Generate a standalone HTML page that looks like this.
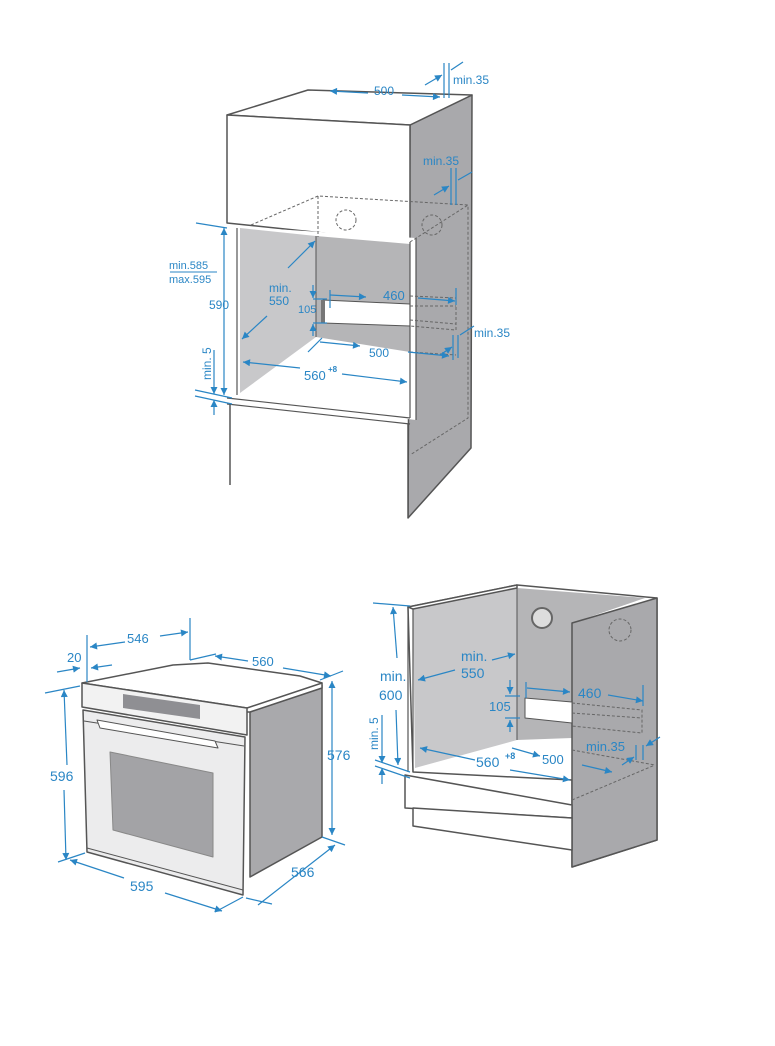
<!DOCTYPE html>
<html><head><meta charset="utf-8"><style>
html,body{margin:0;padding:0;background:#fff}
svg{display:block}
text{font-family:"Liberation Sans",sans-serif;fill:#2a86c5}
</style></head><body>
<svg width="775" height="1046" viewBox="0 0 775 1046" xmlns="http://www.w3.org/2000/svg">
<defs>
<marker id="a" viewBox="0 0 10 10" refX="10" refY="5" markerWidth="9" markerHeight="7" orient="auto-start-reverse" markerUnits="userSpaceOnUse"><path d="M0,0 L10,5 L0,10 z" fill="#2a86c5"/></marker>
</defs>
<g stroke="#555" stroke-width="1.5" stroke-linejoin="round">
<polygon points="410,125 472,95 471,448 408,518" fill="#a9a9ac"/>
<polygon points="227,115 308,90 472,95 410,125" fill="#fff"/>
<polygon points="227,115 410,125 410,242 227,223" fill="#fff"/>
<polygon points="227,226 416,238 416,420 227,398" fill="#fff" stroke="none"/>
<polygon points="240,228 316,236 316,337 240,393" fill="#c8c8ca" stroke="none"/>
<polygon points="316,236 410,244 410,352 316,337" fill="#b5b5b7" stroke="none"/>
<line x1="316" y1="236" x2="316" y2="337" stroke-width="1"/>
<polygon points="323,300 410,304 410,326 323,323" fill="#fff" stroke-width="1"/>
<rect x="321" y="300" width="4" height="23" fill="#777" stroke="none"/>
<line x1="237" y1="228" x2="237" y2="395" stroke-width="1.2"/>
<line x1="410" y1="242" x2="410" y2="418" stroke-width="1.2"/>
<line x1="416" y1="238" x2="416" y2="420" stroke-width="1.2"/>
<line x1="227" y1="398" x2="410" y2="418" stroke-width="1.2"/>
<polygon points="230,404 408,424 408,518 230,485" fill="#fff" stroke="none"/>
<line x1="227" y1="404" x2="410" y2="424" stroke-width="1.2"/>
<line x1="230" y1="404" x2="230" y2="485"/>
<line x1="408" y1="424" x2="408" y2="518"/>
</g>
<g stroke="#666" stroke-width="1" stroke-dasharray="3,2" fill="none">
<polyline points="251,225 318,196 468,205 468,418 410,455"/>
<line x1="318" y1="196" x2="318" y2="237"/>
<line x1="410" y1="242" x2="468" y2="205"/>
<polyline points="410,296 456,298 456,330 410,326"/>
<line x1="410" y1="306" x2="456" y2="306"/>
<line x1="410" y1="320" x2="456" y2="324"/>
<line x1="410" y1="352" x2="456" y2="355"/>
<circle cx="346" cy="220" r="10"/>
<circle cx="432" cy="225" r="10"/>
</g>
<g stroke="#2a86c5" stroke-width="1.2" fill="none">
<line x1="330" y1="91" x2="368" y2="93" marker-start="url(#a)"/>
<line x1="402" y1="95" x2="440" y2="97" marker-end="url(#a)"/>
<line x1="444" y1="63" x2="444" y2="98"/><line x1="449" y1="63" x2="449" y2="98"/>
<line x1="425" y1="85" x2="442" y2="75" marker-end="url(#a)"/><line x1="463" y1="62" x2="451" y2="70"/>
<line x1="451" y1="168" x2="451" y2="205"/><line x1="456" y1="168" x2="456" y2="205"/>
<line x1="434" y1="195" x2="449" y2="186" marker-end="url(#a)"/><line x1="472" y1="172" x2="458" y2="180"/>
<line x1="196" y1="223" x2="227" y2="228"/>
<line x1="224" y1="228" x2="224" y2="395" marker-start="url(#a)" marker-end="url(#a)"/>
<line x1="195" y1="390" x2="232" y2="398"/><line x1="195" y1="396" x2="232" y2="404"/>
<line x1="214" y1="350" x2="214" y2="394" marker-end="url(#a)"/>
<line x1="214" y1="415" x2="214" y2="400" marker-end="url(#a)"/>
<line x1="170" y1="272" x2="217" y2="272" stroke-width="1"/>
<line x1="288" y1="268" x2="315" y2="241" marker-end="url(#a)"/>
<line x1="267" y1="316" x2="242" y2="339" marker-end="url(#a)"/>
<line x1="330" y1="290" x2="330" y2="308"/>
<line x1="366" y1="297" x2="330" y2="295" marker-start="url(#a)"/>
<line x1="418" y1="298" x2="455" y2="301" marker-end="url(#a)"/>
<line x1="456" y1="288" x2="456" y2="305"/>
<line x1="313" y1="299" x2="327" y2="299"/><line x1="313" y1="323" x2="327" y2="323"/>
<line x1="313" y1="285" x2="313" y2="298" marker-end="url(#a)"/>
<line x1="313" y1="336" x2="313" y2="324" marker-end="url(#a)"/>
<line x1="308" y1="352" x2="322" y2="338"/>
<line x1="360" y1="346" x2="320" y2="342" marker-start="url(#a)"/>
<line x1="408" y1="352" x2="449" y2="356" marker-end="url(#a)"/>
<line x1="453" y1="335" x2="453" y2="360"/><line x1="458" y1="335" x2="458" y2="358"/>
<line x1="440" y1="355" x2="452" y2="347" marker-end="url(#a)"/><line x1="474" y1="326" x2="460" y2="335"/>
<line x1="300" y1="368" x2="243" y2="362" marker-end="url(#a)"/>
<line x1="342" y1="374" x2="407" y2="382" marker-end="url(#a)"/>
</g>
<text x="374" y="95" font-size="12">500</text>
<text x="453" y="84" font-size="12">min.35</text>
<text x="423" y="165" font-size="12">min.35</text>
<text x="169" y="269" font-size="11">min.585</text>
<text x="169" y="283" font-size="11">max.595</text>
<text x="209" y="309" font-size="12">590</text>
<text x="269" y="292" font-size="12">min.</text>
<text x="269" y="305" font-size="12">550</text>
<text x="383" y="300" font-size="13">460</text>
<text x="298" y="313" font-size="11">105</text>
<text x="369" y="357" font-size="12">500</text>
<text x="474" y="337" font-size="12">min.35</text>
<text x="304" y="380" font-size="13">560</text>
<text x="328" y="372" font-size="8" font-weight="bold">+8</text>
<text transform="translate(211,380) rotate(-90)" font-size="12">min. 5</text>

<g stroke="#555" stroke-width="1.5" stroke-linejoin="round">
<polygon points="250,712 322,685 322,837 250,877" fill="#a9a9ac"/>
<polygon points="242,700 322,683 322,688 250,712 242,712" fill="#fff"/>
<polygon points="82,683 173,665 208,663 300,676 322,683 247,708" fill="#fff"/>
<polygon points="82,683 247,708 247,735 82,707" fill="#f2f2f2"/>
<polygon points="123,694 200,705 200,719 123,708" fill="#8f8f93" stroke="none"/>
<polygon points="83,710 245,737 243,895 87,852" fill="#ececed"/>
<line x1="84" y1="721" x2="244" y2="746" stroke-width="1"/>
<polygon points="97,720 215,741 218,748 100,728" fill="#fff" stroke-width="1"/>
<polygon points="110,752 213,773 213,857 113,830" fill="#a3a3a6" stroke="#888" stroke-width="1"/>
<line x1="87" y1="848" x2="243" y2="890" stroke-width="1"/>
</g>
<g stroke="#2a86c5" stroke-width="1.2" fill="none">
<line x1="87" y1="635" x2="87" y2="682"/>
<line x1="190" y1="618" x2="190" y2="660"/>
<line x1="90" y1="647" x2="125" y2="642" marker-start="url(#a)"/>
<line x1="160" y1="636" x2="188" y2="632" marker-end="url(#a)"/>
<line x1="57" y1="672" x2="80" y2="668" marker-end="url(#a)"/>
<line x1="91" y1="668" x2="112" y2="665" marker-start="url(#a)"/>
<line x1="45" y1="693" x2="80" y2="686"/>
<line x1="64" y1="690" x2="67" y2="765" marker-start="url(#a)"/>
<line x1="64" y1="790" x2="66" y2="860" marker-end="url(#a)"/>
<line x1="58" y1="862" x2="85" y2="853"/>
<line x1="70" y1="860" x2="124" y2="878" marker-start="url(#a)"/>
<line x1="165" y1="893" x2="222" y2="911" marker-end="url(#a)"/>
<line x1="215" y1="912" x2="243" y2="897"/>
<line x1="190" y1="660" x2="216" y2="654"/>
<line x1="215" y1="656" x2="248" y2="661" marker-start="url(#a)"/>
<line x1="283" y1="668" x2="331" y2="676" marker-end="url(#a)"/>
<line x1="320" y1="680" x2="343" y2="671"/>
<line x1="332" y1="681" x2="332" y2="835" marker-start="url(#a)" marker-end="url(#a)"/>
<line x1="322" y1="837" x2="345" y2="845"/>
<line x1="258" y1="905" x2="335" y2="845" marker-end="url(#a)"/>
<line x1="246" y1="898" x2="272" y2="904"/>
</g>
<text x="127" y="643" font-size="13">546</text>
<text x="67" y="662" font-size="13">20</text>
<text x="252" y="666" font-size="13">560</text>
<text x="50" y="781" font-size="14">596</text>
<text x="327" y="760" font-size="14">576</text>
<text x="130" y="891" font-size="14">595</text>
<text x="291" y="877" font-size="14">566</text>

<g stroke="#555" stroke-width="1.5" stroke-linejoin="round">
<polygon points="408,607 517,585 657,598 657,840 572,867 572,780 413,772" fill="#fff"/>
<polygon points="413,609 517,588 517,740 415,768" fill="#c8c8ca" stroke="none"/>
<polygon points="517,588 645,598 572,623 572,738 517,740" fill="#b5b5b7" stroke="none"/>
<polygon points="572,623 657,598 657,840 572,867" fill="#a9a9ac"/>
<line x1="517" y1="588" x2="517" y2="740" stroke-width="1"/>
<polygon points="525,698 572,702 572,723 525,718" fill="#fff" stroke-width="1"/>
<polygon points="413,609 517,588 517,585 408,607" fill="#fff"/>
<line x1="408" y1="607" x2="408" y2="772" stroke-width="1.2"/>
<line x1="413" y1="609" x2="413" y2="772" stroke-width="1.2"/>
<polygon points="405,775 572,805 572,818 405,808" fill="#fff"/>
<polygon points="413,808 572,818 572,850 413,826" fill="#fff"/>
<circle cx="542" cy="618" r="10" fill="#ddd" stroke="#666" stroke-width="2"/>
</g>
<g stroke="#666" stroke-width="1" stroke-dasharray="3,2" fill="none">
<circle cx="620" cy="630" r="11"/>
<polyline points="572,703 642,710 642,733 572,726"/>
<line x1="572" y1="713" x2="642" y2="718"/>
<line x1="572" y1="750" x2="655" y2="765"/>
<line x1="572" y1="800" x2="655" y2="765"/>
</g>
<g stroke="#2a86c5" stroke-width="1.2" fill="none">
<line x1="373" y1="603" x2="410" y2="606"/>
<line x1="393" y1="607" x2="397" y2="658" marker-start="url(#a)"/>
<line x1="396" y1="710" x2="398" y2="765" marker-end="url(#a)"/>
<line x1="375" y1="760" x2="410" y2="772"/><line x1="375" y1="766" x2="410" y2="778"/>
<line x1="382" y1="715" x2="382" y2="763" marker-end="url(#a)"/>
<line x1="382" y1="784" x2="382" y2="768" marker-end="url(#a)"/>
<line x1="492" y1="660" x2="515" y2="654" marker-end="url(#a)"/>
<line x1="455" y1="670" x2="418" y2="680" marker-end="url(#a)"/>
<line x1="510" y1="680" x2="510" y2="694" marker-end="url(#a)"/>
<line x1="505" y1="696" x2="520" y2="696"/><line x1="505" y1="718" x2="520" y2="718"/>
<line x1="510" y1="732" x2="510" y2="720" marker-end="url(#a)"/>
<line x1="526" y1="682" x2="526" y2="698"/>
<line x1="570" y1="692" x2="527" y2="688" marker-start="url(#a)"/>
<line x1="608" y1="695" x2="643" y2="701" marker-end="url(#a)"/>
<line x1="643" y1="685" x2="643" y2="706"/>
<line x1="475" y1="760" x2="420" y2="748" marker-end="url(#a)"/>
<line x1="510" y1="770" x2="570" y2="780" marker-end="url(#a)"/>
<line x1="540" y1="756" x2="512" y2="748" marker-start="url(#a)"/>
<line x1="582" y1="765" x2="612" y2="772" marker-end="url(#a)"/>
<line x1="636" y1="745" x2="636" y2="760"/><line x1="643" y1="745" x2="643" y2="760"/>
<line x1="622" y1="765" x2="634" y2="757" marker-end="url(#a)"/>
<line x1="660" y1="737" x2="646" y2="746" marker-end="url(#a)"/>
</g>
<text x="380" y="681" font-size="14">min.</text>
<text x="379" y="700" font-size="14">600</text>
<text x="461" y="661" font-size="14">min.</text>
<text x="461" y="678" font-size="14">550</text>
<text x="578" y="698" font-size="14">460</text>
<text x="489" y="711" font-size="13">105</text>
<text x="476" y="767" font-size="14">560</text>
<text x="505" y="759" font-size="9" font-weight="bold">+8</text>
<text x="542" y="764" font-size="13">500</text>
<text x="586" y="751" font-size="13">min.35</text>
<text transform="translate(378,750) rotate(-90)" font-size="12">min. 5</text>
</svg>
</body></html>
